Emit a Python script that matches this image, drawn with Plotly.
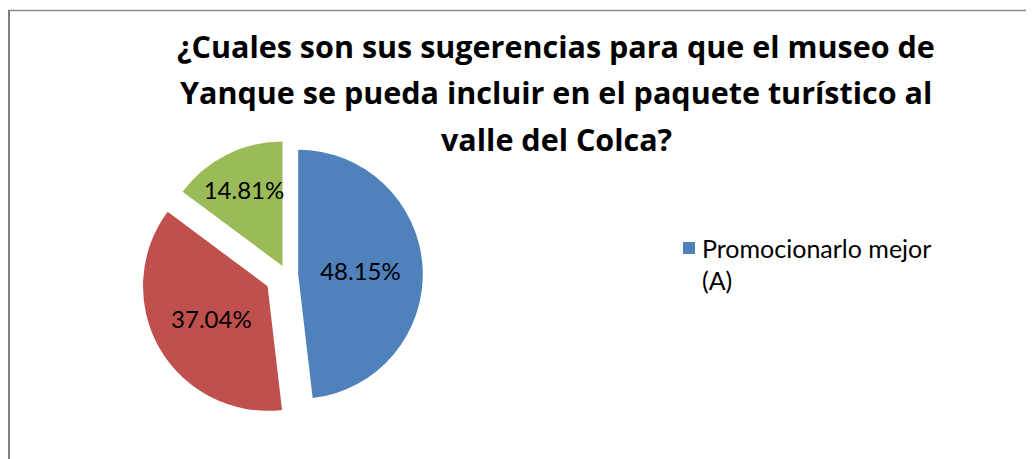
import plotly.graph_objects as go

# survey answers (count of respondents), order as drawn clockwise from 12 o'clock
labels = ["Promocionarlo mejor (A)", "(B)", "(C)"]
values = [13, 10, 4]
colors = ["#4F81BD", "#C0504D", "#9BBB59"]
pulls = [0.09, 0.18, 0.08]

title_lines = [
    "¿Cuales son sus sugerencias para que el museo de",
    "Yanque se pueda incluir en el paquete turístico al",
    "valle del Colca?",
]
legend_lines = ["Promocionarlo mejor", "(A)"]

W, H = 1034, 459
OFF = 8  # page body margin, so screen px -> figure px
TITLE_FONT = "'Open Sans', Lato, sans-serif"
FONT = "Lato, 'Open Sans', sans-serif"


def px(x):
    return (x - OFF) / W


def py(y):
    return 1 - (y - OFF) / H


fig = go.Figure()
fig.add_trace(go.Pie(
    labels=labels, values=values,
    sort=False, direction="clockwise", rotation=0,
    pull=pulls,
    marker=dict(colors=colors, line=dict(width=0)),
    texttemplate="%{percent:.2%}",
    textposition="inside",
    insidetextorientation="horizontal",
    textfont=dict(family=FONT, size=24, color="black"),
    domain=dict(x=[px(140), px(434)], y=[py(422), py(128)]),
    showlegend=False,
    hoverinfo="label+percent",
))

# title, one annotation per line to match the wide line spacing
for i, line in enumerate(title_lines):
    fig.add_annotation(
        text=f"<b>{line}</b>", x=px(556), y=py(46 + i * 46.5),
        xref="paper", yref="paper", xanchor="center", yanchor="middle",
        showarrow=False, font=dict(family=TITLE_FONT, size=30.5, color="black"),
    )

# legend (only the first entry is visible in the original)
fig.add_shape(type="rect", xref="paper", yref="paper",
              x0=px(683), x1=px(695), y0=py(254), y1=py(242),
              fillcolor=colors[0], line=dict(width=0))
for i, line in enumerate(legend_lines):
    fig.add_annotation(
        text=line, x=px(700), y=py(248 + i * 32),
        xref="paper", yref="paper", xanchor="left", yanchor="middle",
        showarrow=False, font=dict(family=FONT, size=25, color="black"),
    )

# chart area border (top and left edges visible)
fig.add_shape(type="line", xref="paper", yref="paper",
              x0=0, x1=1, y0=py(10.5), y1=py(10.5),
              line=dict(color="#8c8c8c", width=1.5))
fig.add_shape(type="line", xref="paper", yref="paper",
              x0=px(9), x1=px(9), y0=0, y1=py(10),
              line=dict(color="#7f7f7f", width=2))

fig.update_layout(
    width=W, height=H,
    margin=dict(l=0, r=0, t=0, b=0),
    paper_bgcolor="white", plot_bgcolor="white",
    uniformtext=dict(minsize=24, mode="show"),
    font=dict(family=FONT),
)

fig.write_html("out.html")
